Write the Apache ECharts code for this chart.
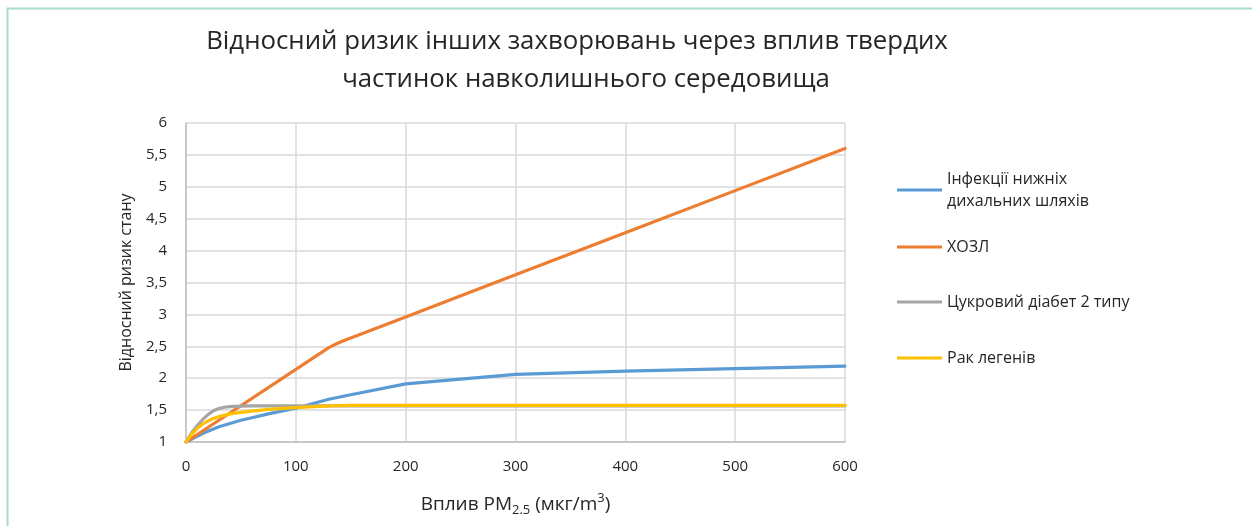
<!DOCTYPE html>
<html>
<head>
<meta charset="utf-8">
<style>
  html, body { margin: 0; padding: 0; background: #fff; }
  #chart { width: 1252px; height: 526px; }
</style>
<script src="https://cdn.jsdelivr.net/npm/echarts@6/dist/echarts.min.js"></script>
</head>
<body>
<div id="chart"></div>
<script>
// Exposure levels (µg/m³) and relative risk per condition
const seriesNames = [
  'Інфекції нижніх\nдихальних шляхів',
  'ХОЗЛ',
  'Цукровий діабет 2 типу',
  'Рак легенів'
];
const lriX   = [0, 10, 20, 30, 40, 50, 60, 75, 100, 130, 150, 200, 300, 400, 500, 600];
const lriY   = [1, 1.09, 1.17, 1.24, 1.29, 1.34, 1.38, 1.44, 1.53, 1.67, 1.74, 1.91, 2.06, 2.11, 2.15, 2.19];
const copdX  = [0, 130, 137, 144, 150, 200, 300, 400, 500, 600];
const copdY  = [1, 2.48, 2.54, 2.59, 2.63, 2.96, 3.62, 4.28, 4.94, 5.6];
const diabX  = [0, 5, 10, 15, 20, 25, 30, 35, 40, 50, 60, 100, 200, 300, 400, 500, 600];
const diabY  = [1, 1.14, 1.25, 1.35, 1.43, 1.49, 1.525, 1.545, 1.555, 1.562, 1.565, 1.565, 1.565, 1.565, 1.565, 1.565, 1.565];
const lungX  = [0, 5, 10, 15, 20, 25, 30, 40, 50, 60, 75, 100, 130, 150, 200, 300, 400, 500, 600];
const lungY  = [1, 1.12, 1.21, 1.28, 1.33, 1.37, 1.40, 1.44, 1.465, 1.485, 1.51, 1.54, 1.565, 1.575, 1.575, 1.575, 1.575, 1.575, 1.575];
const colors = ['#5B9BD5', '#ED7D31', '#A5A5A5', '#FFC000'];
const titleLines = [
  'Відносний ризик інших захворювань через вплив твердих',
  'частинок навколишнього середовища'
];

const FONT = '"Open Sans", "Noto Sans", sans-serif';
const pairs = (xs, ys) => xs.map((x, i) => [x, ys[i]]);
const rawSeries = [[lriX, lriY], [copdX, copdY], [diabX, diabY], [lungX, lungY]];

const chart = echarts.init(document.getElementById('chart'), null, { renderer: 'canvas' });

const legendTops = [163, 231, 286, 342];

const option = {
  animation: false,
  backgroundColor: '#ffffff',
  textStyle: { fontFamily: FONT },
  graphic: [
    {
      type: 'rect',
      shape: { x: 7.5, y: 8.5, width: 1300, height: 600 },
      style: { fill: 'none', stroke: '#A8DCCC', lineWidth: 2 },
      silent: true
    },
    {
      type: 'text',
      x: 577, y: 42,
      style: { text: titleLines[0], font: '25.8px ' + FONT, fill: '#262626', textAlign: 'center', textVerticalAlign: 'middle' }
    },
    {
      type: 'text',
      x: 586, y: 80,
      style: { text: titleLines[1], font: '25.8px ' + FONT, fill: '#262626', textAlign: 'center', textVerticalAlign: 'middle' }
    }
  ],
  grid: { left: 186, right: 407, top: 123, bottom: 84, containLabel: false },
  legend: seriesNames.map((name, i) => ({
    data: [name],
    left: 892,
    top: legendTops[i],
    orient: 'vertical',
    icon: 'rect',
    itemWidth: 45,
    itemHeight: 3,
    itemGap: 0,
    selectedMode: false,
    textStyle: { fontFamily: FONT, fontSize: 16, color: '#262626', lineHeight: 22 }
  })),
  xAxis: {
    type: 'value',
    min: 0, max: 600, interval: 100,
    name: '{a|Вплив PM}{sub|2.5}{a| (мкг/m}{sup|3}{a|)}',
    nameLocation: 'middle',
    nameGap: 50,
    nameTextStyle: {
      rich: {
        a: { fontFamily: FONT, fontSize: 19, color: '#262626' },
        sub: { fontFamily: FONT, fontSize: 13, color: '#262626', verticalAlign: 'bottom', padding: [12, 0, 0, 0] },
        sup: { fontFamily: FONT, fontSize: 13, color: '#262626', verticalAlign: 'top', padding: [0, 0, 10, 0] }
      }
    },
    axisLine: { show: true, lineStyle: { color: '#BFBFBF', width: 1.5 } },
    axisTick: { show: false },
    splitLine: { show: true, lineStyle: { color: '#D9D9D9', width: 1.5 } },
    axisLabel: { fontFamily: FONT, fontSize: 15, color: '#262626', margin: 17 }
  },
  yAxis: {
    type: 'value',
    min: 1, max: 6, interval: 0.5,
    name: 'Відносний ризик стану',
    nameLocation: 'middle',
    nameGap: 52,
    nameTextStyle: { fontFamily: FONT, fontSize: 16, color: '#262626' },
    axisLine: { show: true, lineStyle: { color: '#BFBFBF', width: 1.5 } },
    axisTick: { show: false },
    splitLine: { show: true, lineStyle: { color: '#D9D9D9', width: 1.5 } },
    axisLabel: {
      fontFamily: FONT, fontSize: 15, color: '#262626', margin: 19,
      formatter: v => String(v).replace('.', ',')
    }
  },
  series: rawSeries.map(([xs, ys], i) => ({
    name: seriesNames[i],
    type: 'line',
    data: pairs(xs, ys),
    showSymbol: false,
    smooth: false,
    color: colors[i],
    lineStyle: { width: 3.2, color: colors[i], cap: 'round', join: 'round' },
    z: 2 + i
  }))
};

chart.setOption(option);
</script>
</body>
</html>
